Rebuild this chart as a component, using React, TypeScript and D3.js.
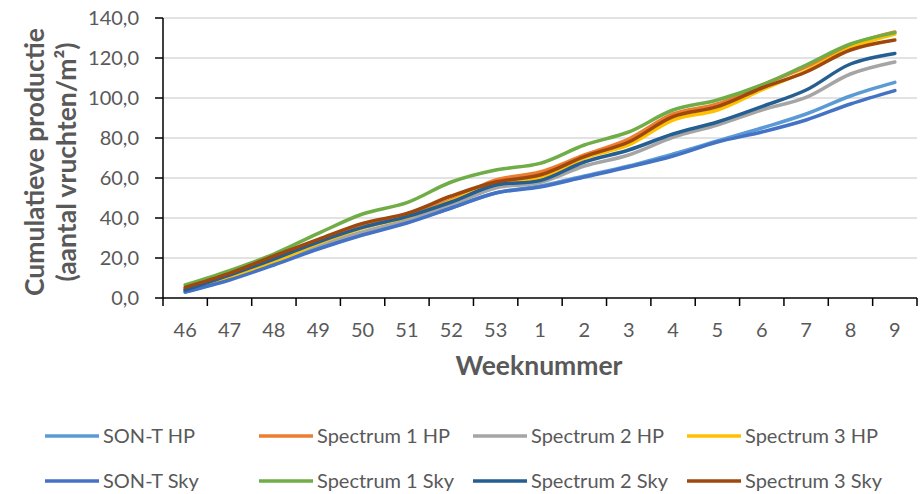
import React from "react";
import * as d3 from "d3";

const weeks = ["46", "47", "48", "49", "50", "51", "52", "53", "1", "2", "3", "4", "5", "6", "7", "8", "9"];
const yTicks = [0, 20, 40, 60, 80, 100, 120, 140];

const sonTHP = [3, 9.5, 17, 25, 32, 38, 45, 52.5, 56, 61, 66, 72, 78.5, 85, 92, 101, 107.8];
const spectrum1HP = [4.5, 12, 20.5, 28, 36, 41.5, 49, 59, 63, 71.5, 79.5, 92, 97, 106.5, 115.5, 126.5, 133];
const spectrum2HP = [4, 11, 18.5, 26.5, 33, 39, 46.5, 55, 57.7, 66, 71.5, 80.3, 86.5, 94, 100.3, 112, 118];
const spectrum3HP = [4, 10.5, 18, 27.3, 35, 40.5, 48.5, 57.5, 60, 70, 76.5, 89, 94, 104, 113.5, 125, 132];
const sonTSky = [3, 9, 16.5, 24.5, 31.5, 37.5, 45, 52.5, 55.5, 60.5, 65.5, 71, 78, 83, 89, 97, 103.7];
const spectrum1Sky = [6.5, 13.7, 22, 32.3, 42, 47.7, 58, 64, 67.3, 76.5, 83, 94, 99, 106.5, 116.5, 127, 132.7];
const spectrum2Sky = [4, 11.5, 19.5, 28, 35.3, 40.7, 48, 56.5, 58.7, 68, 74, 82, 88, 95.7, 104, 117, 122.3];
const spectrum3Sky = [5.3, 12.3, 21, 29.3, 37.3, 42.3, 51, 58, 61.5, 70.7, 78, 90.7, 95.7, 105, 113, 124, 129];

const seriesNames = [
  "SON-T HP", "Spectrum 1 HP", "Spectrum 2 HP", "Spectrum 3 HP",
  "SON-T Sky", "Spectrum 1 Sky", "Spectrum 2 Sky", "Spectrum 3 Sky",
];
const seriesValues = [sonTHP, spectrum1HP, spectrum2HP, spectrum3HP, sonTSky, spectrum1Sky, spectrum2Sky, spectrum3Sky];
const seriesColors = ["#5B9BD5", "#ED7D31", "#A5A5A5", "#FFC000", "#4472C4", "#70AD47", "#255E91", "#9E480E"];

const W = 922;
const H = 494;
const plotLeft = 163;
const plotRight = 917;
const plotTop = 18;
const plotBottom = 298;
const font = "Lato, Carlito, Calibri, sans-serif";
const textColor = "#595959";

export default function App() {
  const x = d3.scaleBand<string>().domain(weeks).range([plotLeft, plotRight]).paddingInner(0).paddingOuter(0);
  const y = d3.scaleLinear().domain([0, 140]).range([plotBottom, plotTop]);
  const cx = (w: string) => (x(w) as number) + x.bandwidth() / 2;

  const line = d3
    .line<number>()
    .x((_, i) => cx(weeks[i]))
    .y((v) => y(v))
    .curve(d3.curveCatmullRom.alpha(0.5));

  const fmt = (v: number) => v.toFixed(1).replace(".", ",");
  const tickEdges = [...weeks.map((w) => x(w) as number), plotRight];

  const legendCols = [45, 259, 473, 687];
  const legendRows = [436, 481];

  return (
    <svg width={W} height={H} style={{ position: "absolute", left: 0, top: 0, background: "#fff" }} fontFamily={font}>
      <rect x={0} y={0} width={W} height={H} fill="#fff" />
      {yTicks.filter((t) => t > 0).map((t) => (
        <line key={t} x1={plotLeft} x2={plotRight} y1={y(t)} y2={y(t)} stroke="#D9D9D9" strokeWidth={1.5} />
      ))}
      <line x1={plotLeft} x2={plotLeft} y1={plotTop} y2={plotBottom} stroke="#000" strokeWidth={1.5} />
      {yTicks.map((t) => (
        <g key={t}>
          <line x1={plotLeft - 8} x2={plotLeft} y1={y(t)} y2={y(t)} stroke="#000" strokeWidth={1.5} />
          <text x={139} y={y(t)} dy="0.35em" textAnchor="end" fontSize={20} fill={textColor}>
            {fmt(t)}
          </text>
        </g>
      ))}
      <line x1={plotLeft} x2={plotRight} y1={plotBottom} y2={plotBottom} stroke="#000" strokeWidth={1.5} />
      {tickEdges.map((e, i) => (
        <line key={i} x1={e} x2={e} y1={plotBottom} y2={plotBottom + 8} stroke="#000" strokeWidth={1.5} />
      ))}
      {weeks.map((w) => (
        <text key={w} x={cx(w)} y={337} textAnchor="middle" fontSize={20} fill={textColor}>
          {w}
        </text>
      ))}
      <text x={539} y={375} textAnchor="middle" fontSize={26.5} fontWeight="bold" fill={textColor}>
        Weeknummer
      </text>
      <g transform="translate(35,162) rotate(-90)">
        <text x={0} y={0} dy="0.35em" textAnchor="middle" fontSize={26.5} fontWeight="bold" fill={textColor}>
          Cumulatieve productie
        </text>
        <text x={0} y={32} dy="0.35em" textAnchor="middle" fontSize={26.5} fontWeight="bold" fill={textColor}>
          (aantal vruchten/m²)
        </text>
      </g>
      {seriesValues.map((vals, i) => (
        <path
          key={seriesNames[i]}
          d={line(vals) || ""}
          fill="none"
          stroke={seriesColors[i]}
          strokeWidth={3.5}
          strokeLinecap="round"
          strokeLinejoin="round"
        />
      ))}
      {seriesNames.map((name, i) => {
        const col = i % 4;
        const row = Math.floor(i / 4);
        const lx = legendCols[col];
        const ly = legendRows[row];
        return (
          <g key={name}>
            <line x1={lx} x2={lx + 54} y1={ly} y2={ly} stroke={seriesColors[i]} strokeWidth={3.5} />
            <text x={lx + 58} y={ly} dy="0.35em" fontSize={20} fill={textColor}>
              {name}
            </text>
          </g>
        );
      })}
    </svg>
  );
}
